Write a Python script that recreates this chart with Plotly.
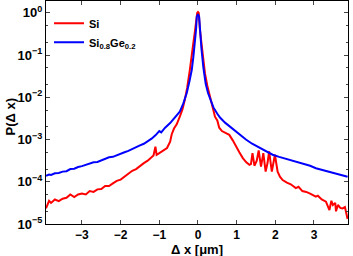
import plotly.graph_objects as go

# Red series: Si
si_x = [-3.93, -3.85, -3.80, -3.70, -3.60, -3.50, -3.40, -3.30, -3.20, -3.10, -3.00, -2.90, -2.80,
        -2.70, -2.60, -2.50, -2.40, -2.30, -2.20, -2.10, -2.00, -1.90, -1.80, -1.70, -1.60, -1.50,
        -1.40, -1.30, -1.20, -1.15, -1.10, -1.07, -1.00, -0.90, -0.80, -0.72, -0.68, -0.62, -0.55,
        -0.47, -0.40, -0.34, -0.28, -0.21, -0.16, -0.12, -0.08, -0.05, -0.02, 0.00, 0.02, 0.05,
        0.09, 0.13, 0.18, 0.24, 0.31, 0.38, 0.44, 0.50, 0.55, 0.62, 0.70, 0.81, 0.90, 0.98, 1.07,
        1.16, 1.25, 1.33, 1.37, 1.41, 1.46, 1.52, 1.57, 1.63, 1.69, 1.75, 1.80, 1.84, 1.91, 1.99,
        2.06, 2.12, 2.19, 2.30, 2.40, 2.53, 2.60, 2.70, 2.80, 2.90, 2.97, 3.05, 3.10, 3.20, 3.31,
        3.40, 3.45, 3.49, 3.55, 3.57, 3.62, 3.68, 3.74, 3.80, 3.87]
si_log = [-4.63, -4.45, -4.50, -4.42, -4.46, -4.40, -4.38, -4.30, -4.36, -4.30, -4.28, -4.30, -4.22,
          -4.24, -4.18, -4.17, -4.10, -4.10, -4.04, -3.98, -3.95, -3.88, -3.82, -3.74, -3.70, -3.62,
          -3.56, -3.50, -3.42, -3.38, -3.17, -3.36, -3.32, -3.27, -3.20, -3.05, -2.88, -2.74, -2.64,
          -2.46, -2.28, -2.06, -1.78, -1.35, -1.05, -0.72, -0.45, -0.17, 0.00, 0.02, 0.00, -0.40,
          -0.72, -1.05, -1.43, -1.72, -1.98, -2.22, -2.46, -2.55, -2.72, -2.80, -2.84, -2.89, -3.02,
          -3.17, -3.30, -3.44, -3.54, -3.60, -3.58, -3.32, -3.62, -3.50, -3.26, -3.64, -3.32, -3.76,
          -3.55, -3.28, -3.76, -3.36, -3.76, -3.88, -3.96, -4.02, -4.06, -4.15, -4.12, -4.22, -4.24,
          -4.28, -4.31, -4.35, -4.33, -4.42, -4.47, -4.67, -4.45, -4.55, -4.50, -4.70, -4.55, -4.62,
          -4.63, -4.60, -4.88]

# Blue series: Si0.8Ge0.2
sige_x = [-3.93, -3.85, -3.80, -3.70, -3.60, -3.50, -3.40, -3.30, -3.20, -3.10, -3.00, -2.90, -2.80,
          -2.70, -2.60, -2.50, -2.40, -2.30, -2.20, -2.10, -2.00, -1.90, -1.80, -1.70, -1.60, -1.50,
          -1.40, -1.30, -1.20, -1.10, -1.00, -0.95, -0.85, -0.72, -0.60, -0.47, -0.38, -0.29, -0.22,
          -0.16, -0.12, -0.08, -0.05, -0.03, 0.00, 0.03, 0.05, 0.09, 0.14, 0.20, 0.26, 0.31, 0.40,
          0.50, 0.57, 0.70, 0.83, 1.00, 1.10, 1.24, 1.40, 1.60, 1.80, 1.93, 2.10, 2.30, 2.53, 2.70,
          2.90, 3.05, 3.20, 3.40, 3.60, 3.75, 3.87]
sige_log = [-3.86, -3.83, -3.84, -3.80, -3.79, -3.76, -3.75, -3.70, -3.69, -3.65, -3.63, -3.60, -3.58,
            -3.54, -3.53, -3.49, -3.46, -3.42, -3.41, -3.37, -3.34, -3.30, -3.27, -3.22, -3.19, -3.14,
            -3.10, -3.05, -2.98, -2.90, -2.80, -2.83, -2.72, -2.61, -2.48, -2.34, -2.15, -1.90, -1.62,
            -1.35, -1.05, -0.72, -0.40, -0.09, -0.03, -0.09, -0.40, -0.85, -1.30, -1.68, -1.90, -2.04,
            -2.24, -2.39, -2.48, -2.60, -2.70, -2.82, -2.90, -3.00, -3.10, -3.20, -3.29, -3.36, -3.41,
            -3.46, -3.52, -3.57, -3.62, -3.68, -3.72, -3.77, -3.82, -3.85, -3.88]

x_ticks = [-3, -2, -1, 0, 1, 2, 3]
x_tick_text = ["<b>\u22123</b>", "<b>\u22122</b>", "<b>\u22121</b>", "<b>0</b>", "<b>1</b>",
               "<b>2</b>", "<b>3</b>"]
y_ticks = [1e-5, 1e-4, 1e-3, 1e-2, 1e-1, 1]
y_tick_text = ["<b>10<sup>\u22125</sup></b>", "<b>10<sup>\u22124</sup></b>",
               "<b>10<sup>\u22123</sup></b>", "<b>10<sup>\u22122</sup></b>",
               "<b>10<sup>\u22121</sup></b>", "<b>10<sup>0</sup></b>"]

FONT = "Liberation Sans, Arial, sans-serif"

fig = go.Figure()
fig.add_trace(go.Scatter(x=si_x, y=[10 ** v for v in si_log], mode="lines", name="<b>Si</b>",
                         line=dict(color="#ff0000", width=2)))
fig.add_trace(go.Scatter(x=sige_x, y=[10 ** v for v in sige_log], mode="lines",
                         name="<b>Si<sub>0.8</sub>Ge<sub>0.2</sub></b>",
                         line=dict(color="#0000ff", width=2)))

fig.update_layout(
    width=353, height=256,
    margin=dict(l=46, r=5, t=1, b=32),
    paper_bgcolor="white", plot_bgcolor="white",
    font=dict(family=FONT, size=13, color="black"),
    showlegend=True,
    legend=dict(x=0.01, y=0.965, xanchor="left", yanchor="top", bgcolor="rgba(0,0,0,0)",
                font=dict(family=FONT, size=11, color="black"),
                tracegroupgap=0, itemwidth=30),
    xaxis=dict(range=[-3.93, 3.88], tickvals=x_ticks, ticktext=x_tick_text,
               ticks="inside", ticklen=4, mirror="ticks", showline=True, linecolor="black",
               linewidth=1, showgrid=False, zeroline=False,
               tickfont=dict(size=12, family=FONT)),
    yaxis=dict(type="log", range=[-5, 0.28], tickvals=y_ticks, ticktext=y_tick_text,
               ticks="inside", ticklen=4, mirror="ticks", showline=True, linecolor="black",
               linewidth=1, showgrid=False, zeroline=False,
               minor=dict(ticks="inside", ticklen=2, showgrid=False),
               tickfont=dict(size=13, family=FONT)),
    annotations=[
        dict(text="<b>\u0394 x [\u03bcm]</b>", xref="paper", yref="paper", x=0.5, y=0,
             xanchor="center", yanchor="middle", yshift=-25, showarrow=False,
             font=dict(family=FONT, size=13)),
        dict(text="<b>P(\u0394 x)</b>", xref="paper", yref="paper", x=0, y=0.5,
             xanchor="center", yanchor="middle", xshift=-36, yshift=-4, textangle=-90,
             showarrow=False, font=dict(family=FONT, size=13)),
    ],
)

fig.write_html("out.html", config={"displayModeBar": False},
               post_script="document.body.style.margin='0';document.body.style.overflow='hidden';")
